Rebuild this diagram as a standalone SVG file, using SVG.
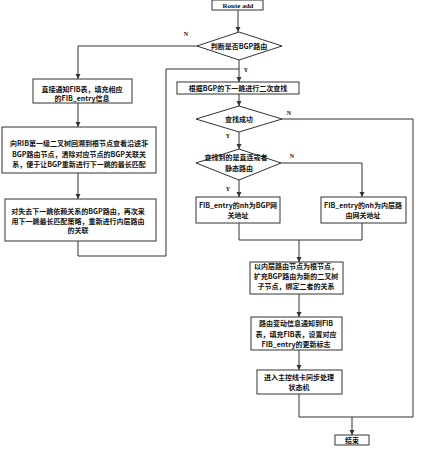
<svg xmlns="http://www.w3.org/2000/svg" width="423" height="450" viewBox="0 0 423 450">
<style>
.n{fill:#fff;stroke:#333;stroke-width:1}
.c{fill:none;stroke:#333;stroke-width:1}
text{font-family:"Noto Sans CJK SC","Liberation Serif",serif;font-size:7px;font-weight:bold;fill:#111;text-anchor:middle}
.l{font-family:"Liberation Serif",serif;font-size:6px}
</style>
<defs>
<marker id="a" markerWidth="6" markerHeight="6" refX="5" refY="3" orient="auto" markerUnits="userSpaceOnUse">
<path d="M0,0.5 L5,3 L0,5.5 Z" fill="#333"/>
</marker>
</defs>
<rect width="423" height="450" fill="#fff"/>
<g id="connectors">
<path class="c" d="M238,10 V32" marker-end="url(#a)"/>
<path class="c" d="M197,46 H78 V79" marker-end="url(#a)"/>
<path class="c" d="M78,103 V127" marker-end="url(#a)"/>
<path class="c" d="M78,173 V199" marker-end="url(#a)"/>
<path class="c" d="M78,241 V256 H166 V69 H239"/>
<path class="c" d="M239,60 V82" marker-end="url(#a)"/>
<path class="c" d="M239,94 V106" marker-end="url(#a)"/>
<path class="c" d="M282,119 H413 V417 H299 V394"/>
<path class="c" d="M239,132 V149" marker-end="url(#a)"/>
<path class="c" d="M281,163 H362 V197" marker-end="url(#a)"/>
<path class="c" d="M239,180 V197" marker-end="url(#a)"/>
<path class="c" d="M239,223 V240 H362 V223"/>
<path class="c" d="M299,240 V262" marker-end="url(#a)"/>
<path class="c" d="M299,294 V317" marker-end="url(#a)"/>
<path class="c" d="M299,350 V370" marker-end="url(#a)"/>
<path class="c" d="M352,417 V435" marker-end="url(#a)"/>
<text class="l" x="186" y="36">N</text>
<text class="l" x="246" y="72">Y</text>
<text class="l" x="289" y="115">N</text>
<text class="l" x="228" y="138">Y</text>
<text class="l" x="292" y="158">N</text>
<text class="l" x="228" y="191">Y</text>
</g>
<g id="start">
<rect class="n" x="212" y="0" width="51" height="10"/>
<text class="l" x="238" y="8" style="font-size:7px">Route add</text>
</g>
<g id="isBGP">
<polygon class="n" points="239,32 282,46 239,60 197,46"/>
<text x="239" y="48.5">判断是否BGP路由</text>
</g>
<g id="notifyFIB">
<rect class="n" x="33" y="79" width="99" height="24"/>
<text x="82" y="91.5">直接通知FIB表，填充相应</text>
<text x="82" y="100.5">的FIB_entry信息</text>
</g>
<g id="backtrack">
<rect class="n" x="2" y="127" width="154" height="46"/>
<text x="79" y="145.5">向RIB第一级二叉树回溯到根节点查看沿途非</text>
<text x="79" y="156.5">BGP路由节点，清除对应节点的BGP关联关</text>
<text x="79" y="166.5">系，便于让BGP重新进行下一跳的最长匹配</text>
</g>
<g id="rematch">
<rect class="n" x="5" y="199" width="151" height="42"/>
<text x="78" y="213.5">对失去下一跳依赖关系的BGP路由，再次采</text>
<text x="78" y="223.5">用下一跳最长匹配策略，重新进行内层路由</text>
<text x="78" y="232.5">的关联</text>
</g>
<g id="secondLookup">
<rect class="n" x="177" y="82" width="122" height="12"/>
<text x="238" y="90.5">根据BGP的下一跳进行二次查找</text>
</g>
<g id="found">
<polygon class="n" points="239,106 282,119 239,132 196,119"/>
<text x="239" y="121.5">查找成功</text>
</g>
<g id="directOrStatic">
<polygon class="n" points="239,149 281,163 239,180 196,163"/>
<text x="236" y="159.5">查找到的是直连或者</text>
<text x="239" y="170.5">静态路由</text>
</g>
<g id="nhBGP">
<rect class="n" x="196" y="197" width="84" height="26"/>
<text x="238" y="207.5">FIB_entry的nh为BGP网</text>
<text x="238" y="217.5">关地址</text>
</g>
<g id="nhInner">
<rect class="n" x="321" y="197" width="85" height="26"/>
<text x="363" y="207.5">FIB_entry的nh为内层路</text>
<text x="363" y="217.5">由网关地址</text>
</g>
<g id="bind">
<rect class="n" x="250" y="262" width="93" height="32"/>
<text x="296" y="268.5">以内层路由节点为根节点，</text>
<text x="296" y="278.5">扩充BGP路由为新的二叉树</text>
<text x="296" y="288.5">子节点，绑定二者的关系</text>
</g>
<g id="notifyChange">
<rect class="n" x="251" y="317" width="91" height="33"/>
<text x="296" y="325.5">路由变动信息通知到FIB</text>
<text x="296" y="336.5">表，填充FIB表，设置对应</text>
<text x="296" y="346.5">FIB_entry的更新标志</text>
</g>
<g id="sync">
<rect class="n" x="257" y="370" width="85" height="24"/>
<text x="299" y="379.5">进入主控线卡同步处理</text>
<text x="299" y="389.5">状态机</text>
</g>
<g id="end">
<rect class="n" x="335" y="435" width="34" height="10"/>
<text x="352" y="442.5">结束</text>
</g>
</svg>
